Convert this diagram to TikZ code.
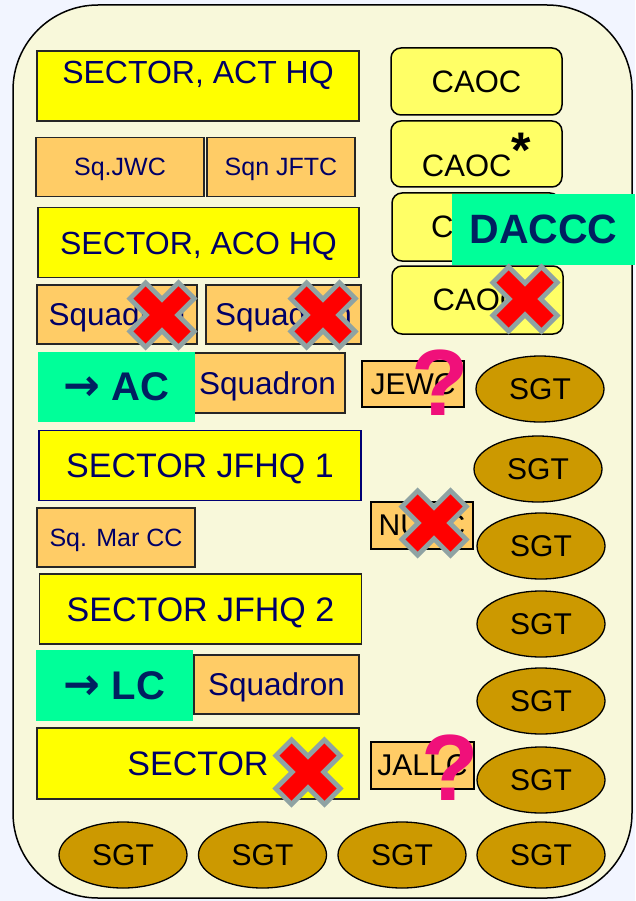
\documentclass[tikz,border=0pt]{standalone}
\usepackage{fontspec}
\setmainfont{Liberation Sans}
\newfontfamily\arrowfont{DejaVu Sans}
\usetikzlibrary{shapes.geometric}

\definecolor{pagebg}{HTML}{F2F5FF}
\definecolor{cream}{HTML}{F8F8DA}
\definecolor{sectoryellow}{HTML}{FFFF00}
\definecolor{sqnorange}{HTML}{FFCC66}
\definecolor{caocyellow}{HTML}{FFFF66}
\definecolor{mintgreen}{HTML}{00FF99}
\definecolor{navytext}{HTML}{000066}
\definecolor{navybold}{HTML}{002060}
\definecolor{sgtgold}{HTML}{CC9900}
\definecolor{crossgray}{HTML}{8FA3A3}
\definecolor{qpink}{HTML}{F0107A}

\newcommand{\tofrom}{{\arrowfont\bfseries\fontsize{44}{48}\selectfont →}}

\tikzset{
  sector/.style={draw=black!85, line width=1.3pt, fill=sectoryellow, text=navytext,
    inner sep=0pt, minimum width=322pt, minimum height=70pt, text height=23pt, text depth=0pt,
    font=\fontsize{32}{38}\selectfont},
  bigsector/.style={sector, text height=24.5pt, font=\fontsize{34}{40}\selectfont},
  sqn/.style={draw=black!85, line width=1.3pt, fill=sqnorange, text=navytext,
    inner sep=0pt, minimum height=59pt, text height=22.5pt, text depth=0pt,
    font=\fontsize{31.5}{36}\selectfont},
  smallsqn/.style={sqn, text height=18pt, font=\fontsize{25}{30}\selectfont},
  centre/.style={draw=black, line width=1.3pt, fill=sqnorange, text=black,
    inner sep=0pt, minimum width=102pt, minimum height=47pt, font=\fontsize{30}{36}\selectfont},
  caoc/.style={draw=black, line width=1.5pt, fill=caocyellow, rounded corners=10pt,
    inner sep=0pt, minimum width=171pt, minimum height=67pt, font=\fontsize{31}{36}\selectfont},
  newrole/.style={fill=mintgreen, text=navybold, inner sep=0pt,
    minimum width=157pt, minimum height=70pt, font=\bfseries\fontsize{40}{48}\selectfont},
  sgt/.style={ellipse, draw=black, line width=1.3pt, fill=sgtgold, inner sep=0pt,
    minimum width=128pt, minimum height=66pt, font=\fontsize{30}{36}\selectfont},
  qmark/.style={text=qpink, inner sep=0pt, font=\bfseries\fontsize{94}{100}\selectfont},
  crossrim/.style={draw=crossgray, line width=27pt},
  crosscore/.style={draw=red, line width=17pt}
}

\begin{document}
\begin{tikzpicture}[x=1pt, y=-1pt]
  % page
  \useasboundingbox (0,0) rectangle (635,901);
  \fill[pagebg] (0,0) rectangle (635,901);
  \draw[line width=1.5pt, fill=cream, rounded corners=85pt] (13,5) rectangle (632,898);

  % left column
  \node[sector, text height=33pt, text depth=37pt] (acthq) at (198,86) {SECTOR, ACT HQ};
  \node[smallsqn, minimum width=168pt] (jwc) at (120,167) {Sq.JWC};
  \node[smallsqn, minimum width=148pt] (jftc) at (281,167) {Sqn JFTC};
  \node[sector, minimum width=321pt] (acohq) at (198.5,242.5) {SECTOR, ACO HQ};
  \node[sqn, minimum width=160pt] (sqnone) at (117,314.5) {Squadron};
  \node[sqn, minimum width=155pt] (sqntwo) at (283.5,314.5) {Squadron};
  \node[sqn, minimum width=155pt, minimum height=60pt] (sqnac) at (267.5,383) {Squadron};
  \node[newrole] (ac) at (116.5,387) {\tofrom{} AC};
  \node[bigsector, draw=blue!45!black] (jfhqone) at (200,465.5) {SECTOR JFHQ 1};
  \node[smallsqn, minimum width=158pt] (marcc) at (116,537.5) {Sq. Mar CC};
  \node[bigsector] (jfhqtwo) at (200.5,609) {SECTOR JFHQ 2};
  \node[sqn, minimum width=165pt] (sqnlc) at (276.5,684.5) {Squadron};
  \node[newrole, minimum height=71pt] (lc) at (114.5,685.5) {\tofrom{} LC};
  \node[bigsector, minimum height=71pt] (sector) at (198,763.5) {SECTOR};

  % CAOCs
  \node[caoc] (caocone) at (476.5,81.5) {CAOC};
  \node[caoc, minimum height=66pt, text height=56pt, text depth=10pt] (caoctwo) at (476.5,154)
    {CAOC\raisebox{9pt}{\bfseries\fontsize{50}{50}\selectfont *}};
  \node[caoc, minimum width=168pt, minimum height=68pt] (caocthree) at (476,227) {CAOC};
  \node[newrole, minimum width=183pt, minimum height=71pt, font=\bfseries\fontsize{41}{48}\selectfont] (daccc) at (543.5,229.5) {DACCC};
  \node[caoc, minimum height=68pt] (caocfour) at (477.5,300) {CAOC};

  % centres
  \node[centre, minimum height=46pt] (jewc) at (413,384) {JEWC};
  \node[centre] (nurc) at (422,525.5) {NURC};
  \node[centre, minimum width=103pt] (jallc) at (422.5,765.5) {JALLC};

  % SGTs
  \node[sgt] (sgtone) at (540,389) {SGT};
  \node[sgt] (sgttwo) at (538,469) {SGT};
  \node[sgt] (sgtthree) at (541,546) {SGT};
  \node[sgt] (sgtfour) at (541,624) {SGT};
  \node[sgt] (sgtfive) at (541,701) {SGT};
  \node[sgt] (sgtsix) at (541,780) {SGT};
  \node[sgt] (sgtbotone) at (123,855) {SGT};
  \node[sgt] (sgtbottwo) at (262.5,855) {SGT};
  \node[sgt] (sgtbotthree) at (402,855) {SGT};
  \node[sgt] (sgtbotfour) at (541,855) {SGT};

  % crosses
  \foreach \cx/\cy in {162/315, 323/315, 525/299, 434/523, 308/772} {
    \draw[crossrim] (\cx-26,\cy-26) -- (\cx+26,\cy+26) (\cx-26,\cy+26) -- (\cx+26,\cy-26);
    \draw[crosscore] (\cx-22.5,\cy-22.5) -- (\cx+22.5,\cy+22.5) (\cx-22.5,\cy+22.5) -- (\cx+22.5,\cy-22.5);
  }

  % question marks
  \node[qmark] (qjewc) at (440,383) {?};
  \node[qmark] (qjallc) at (450,768) {?};
\end{tikzpicture}
\end{document}
